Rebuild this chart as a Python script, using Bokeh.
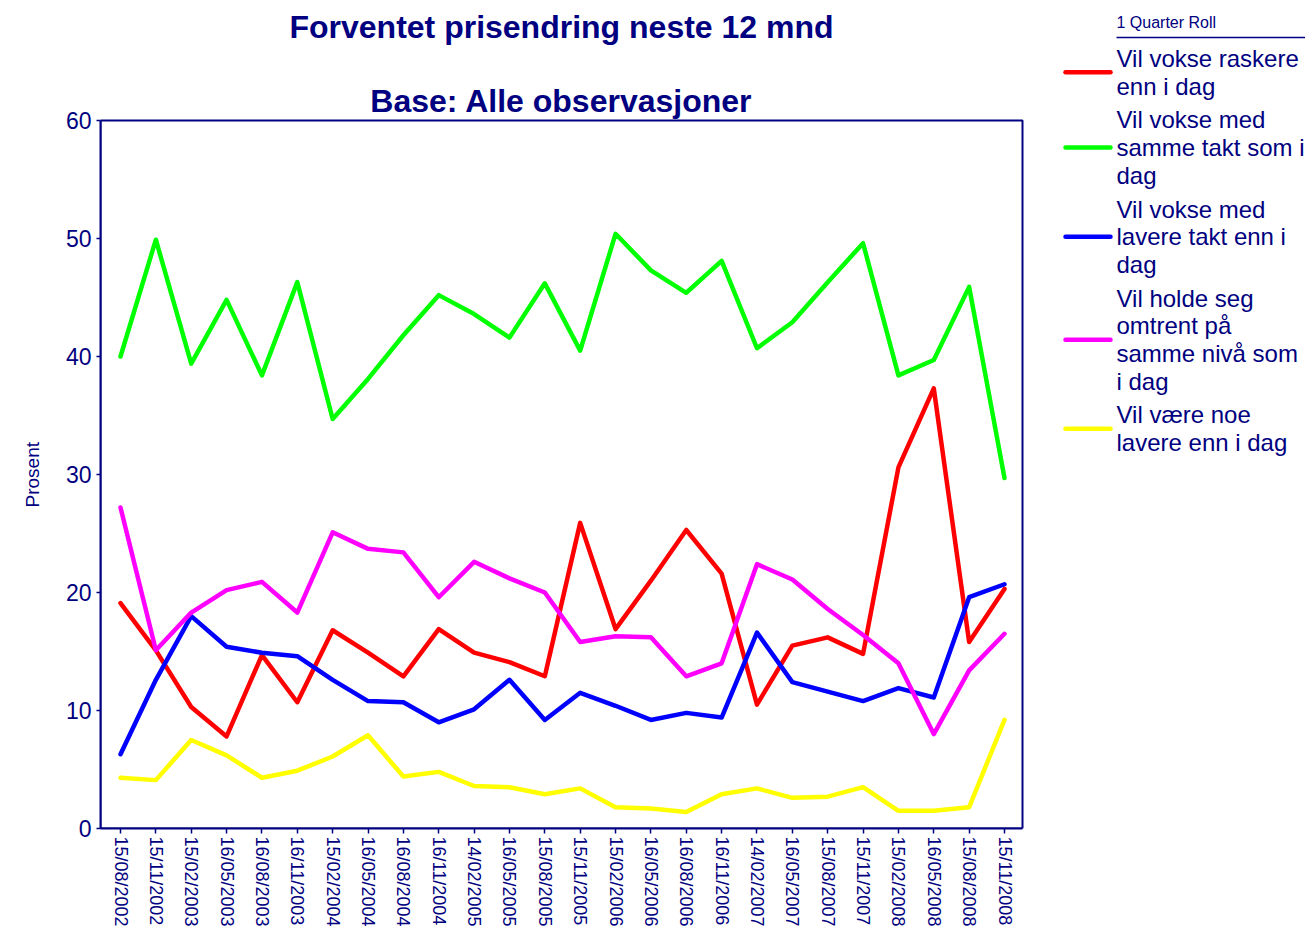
from bokeh.plotting import figure
from bokeh.models import Range1d, FixedTicker, BoxAnnotation, Title
from bokeh.embed import file_html
from bokeh.resources import INLINE
from bokeh.core.properties import value

# ---------------- data ----------------
dates = ["15/08/2002", "15/11/2002", "15/02/2003", "16/05/2003", "16/08/2003",
         "16/11/2003", "15/02/2004", "16/05/2004", "16/08/2004", "16/11/2004",
         "14/02/2005", "16/05/2005", "15/08/2005", "15/11/2005", "15/02/2006",
         "16/05/2006", "16/08/2006", "16/11/2006", "14/02/2007", "16/05/2007",
         "15/08/2007", "15/11/2007", "15/02/2008", "16/05/2008", "15/08/2008",
         "15/11/2008"]

raskere = [19.1, 15.1, 10.3, 7.8, 14.7, 10.7, 16.8, 14.9, 12.9, 16.9, 14.9, 14.1, 12.9,
           25.9, 16.9, 21.0, 25.3, 21.6, 10.5, 15.5, 16.2, 14.8, 30.6, 37.3, 15.8, 20.3]
samme_takt = [40.0, 49.9, 39.4, 44.8, 38.4, 46.3, 34.7, 38.1, 41.8, 45.2, 43.6, 41.6, 46.2,
              40.5, 50.4, 47.3, 45.4, 48.1, 40.7, 42.9, 46.3, 49.6, 38.4, 39.7, 45.9, 29.7]
lavere_takt = [6.3, 12.6, 18.0, 15.4, 14.9, 14.6, 12.6, 10.8, 10.7, 9.0, 10.1, 12.6, 9.2,
               11.5, 10.4, 9.2, 9.8, 9.4, 16.6, 12.4, 11.6, 10.8, 11.9, 11.1, 19.6, 20.7]
samme_niva = [27.2, 15.1, 18.3, 20.2, 20.9, 18.3, 25.1, 23.7, 23.4, 19.6, 22.6, 21.2, 20.0,
              15.8, 16.3, 16.2, 12.9, 14.0, 22.4, 21.1, 18.6, 16.4, 14.0, 8.0, 13.4, 16.5]
noe_lavere = [4.3, 4.1, 7.5, 6.2, 4.3, 4.9, 6.1, 7.9, 4.4, 4.8, 3.6, 3.5, 2.9,
              3.4, 1.8, 1.7, 1.4, 2.9, 3.4, 2.6, 2.7, 3.5, 1.5, 1.5, 1.8, 9.2]

series_labels = ["Vil vokse raskere\nenn i dag",
                 "Vil vokse med\nsamme takt som i\ndag",
                 "Vil vokse med\nlavere takt enn i\ndag",
                 "Vil holde seg\nomtrent på\nsamme nivå som\ni dag",
                 "Vil være noe\nlavere enn i dag"]
series_colors = ["#FF0000", "#00FF00", "#0000FF", "#FF00FF", "#FFFF00"]
series_values = [raskere, samme_takt, lavere_takt, samme_niva, noe_lavere]

title_line1 = "Forventet prisendring neste 12 mnd"
title_line2 = "Base: Alle observasjoner"
legend_title = "1 Quarter Roll"
y_label = "Prosent"
y_ticks = [0, 10, 20, 30, 40, 50, 60]
y_min, y_max = 0, 60

# ---------------- layout (pixels of the 1305x931 canvas) ----------------
NAVY = "#000080"
FONT = "Liberation Sans"
W, H = 1305, 931
BOX_L, BOX_R, BOX_T, BOX_B = 100, 1022, 120, 828   # plot box in pixels
FIRST_PX, LAST_PX = 120, 1004                        # first / last category centre
n = len(dates)
PX_X = (LAST_PX - FIRST_PX) / (n - 1)
PX_Y = (BOX_B - BOX_T) / (y_max - y_min)


def dx(px):
    return (px - FIRST_PX) / PX_X


def dy(py):
    return y_min + (BOX_B - py) / PX_Y


x_idx = list(range(n))

p = figure(width=W, height=H,
           x_range=Range1d(dx(BOX_L), dx(W)),
           y_range=Range1d(y_min, dy(0)),
           output_backend="svg", toolbar_location=None,
           min_border_left=BOX_L, min_border_right=0,
           min_border_top=0, min_border_bottom=H - BOX_B)
p.background_fill_color = "white"
p.border_fill_color = "white"
p.grid.visible = False
p.outline_line_color = None

# plot box
p.add_layout(BoxAnnotation(left=dx(BOX_L), right=dx(BOX_R), bottom=y_min, top=y_max,
                           fill_alpha=0, line_color=NAVY, line_alpha=1.0, line_width=2))

for vals, col in zip(series_values, series_colors):
    p.line(x_idx, vals, line_color=col, line_width=4.5,
           line_join="round", line_cap="round")

# axes
xa = p.xaxis[0]
xa.bounds = (dx(BOX_L), dx(BOX_R))
xa.ticker = FixedTicker(ticks=x_idx)
xa.major_label_overrides = {i: d for i, d in zip(x_idx, dates)}
xa.major_label_orientation = "vertical"
xa.major_label_text_font = FONT
xa.major_label_text_font_size = "18px"
xa.major_label_text_color = NAVY
xa.major_label_standoff = 3
xa.major_tick_out = 5
xa.major_tick_in = 0
xa.minor_tick_out = 0
xa.minor_tick_in = 0
xa.major_tick_line_color = NAVY
xa.major_tick_line_width = 1.5
xa.axis_line_color = NAVY
xa.axis_line_width = 2

ya = p.yaxis[0]
ya.bounds = (y_min, y_max)
ya.ticker = FixedTicker(ticks=y_ticks)
ya.major_label_text_font = FONT
ya.major_label_text_font_size = "23px"
ya.major_label_text_color = NAVY
ya.major_label_standoff = 5
ya.major_tick_out = 4
ya.major_tick_in = 0
ya.minor_tick_out = 0
ya.minor_tick_in = 0
ya.major_tick_line_color = NAVY
ya.major_tick_line_width = 1.5
ya.axis_line_color = NAVY
ya.axis_line_width = 2

# y-axis caption, centred on the 0-60 span of the axis
axis_centre_py = (BOX_T + BOX_B) / 2
caption_half_len = 33
p.add_layout(Title(text=y_label, align="left", vertical_align="top",
                   offset=BOX_B - (axis_centre_py + caption_half_len), standoff=36,
                   text_font=FONT, text_font_size="19px", text_font_style="normal",
                   text_color=NAVY), "left")

# titles
centre_x = (BOX_L + BOX_R) / 2
p.text(x=[dx(centre_x), dx(centre_x)], y=[dy(26), dy(100)],
       text=[title_line1, title_line2], text_font=value(FONT),
       text_font_size="32px", text_font_style="bold", text_color=NAVY,
       text_align="center", text_baseline="middle")

# legend
LEG_LINE_L, LEG_LINE_R, LEG_TEXT_X = 1065, 1110, 1116
p.text(x=[dx(LEG_TEXT_X)], y=[dy(22)], text=[legend_title], text_font=value(FONT),
       text_font_size="16px", text_color=NAVY, text_baseline="middle", text_align="left")
p.segment(x0=[dx(LEG_TEXT_X)], y0=[dy(37)], x1=[dx(W)], y1=[dy(37)],
          line_color=NAVY, line_width=1.5)

line_step = 27.7
gap = 6
y0 = 58
tx, ty, tt = [], [], []
sx0, sx1, sy, sc = [], [], [], []
for lab, col in zip(series_labels, series_colors):
    lines = lab.split("\n")
    for k, ln in enumerate(lines):
        tx.append(dx(LEG_TEXT_X))
        ty.append(dy(y0 + k * line_step))
        tt.append(ln)
    sx0.append(dx(LEG_LINE_L))
    sx1.append(dx(LEG_LINE_R))
    sy.append(dy(y0 + (len(lines) - 1) * line_step / 2))
    sc.append(col)
    y0 += len(lines) * line_step + gap

p.segment(x0=sx0, y0=sy, x1=sx1, y1=sy, line_color=sc, line_width=4.5, line_cap="round")
p.text(x=tx, y=ty, text=tt, text_font=value(FONT), text_font_size="24px",
       text_color=NAVY, text_baseline="middle", text_align="left")

open("out.html", "w").write(file_html(p, INLINE))
